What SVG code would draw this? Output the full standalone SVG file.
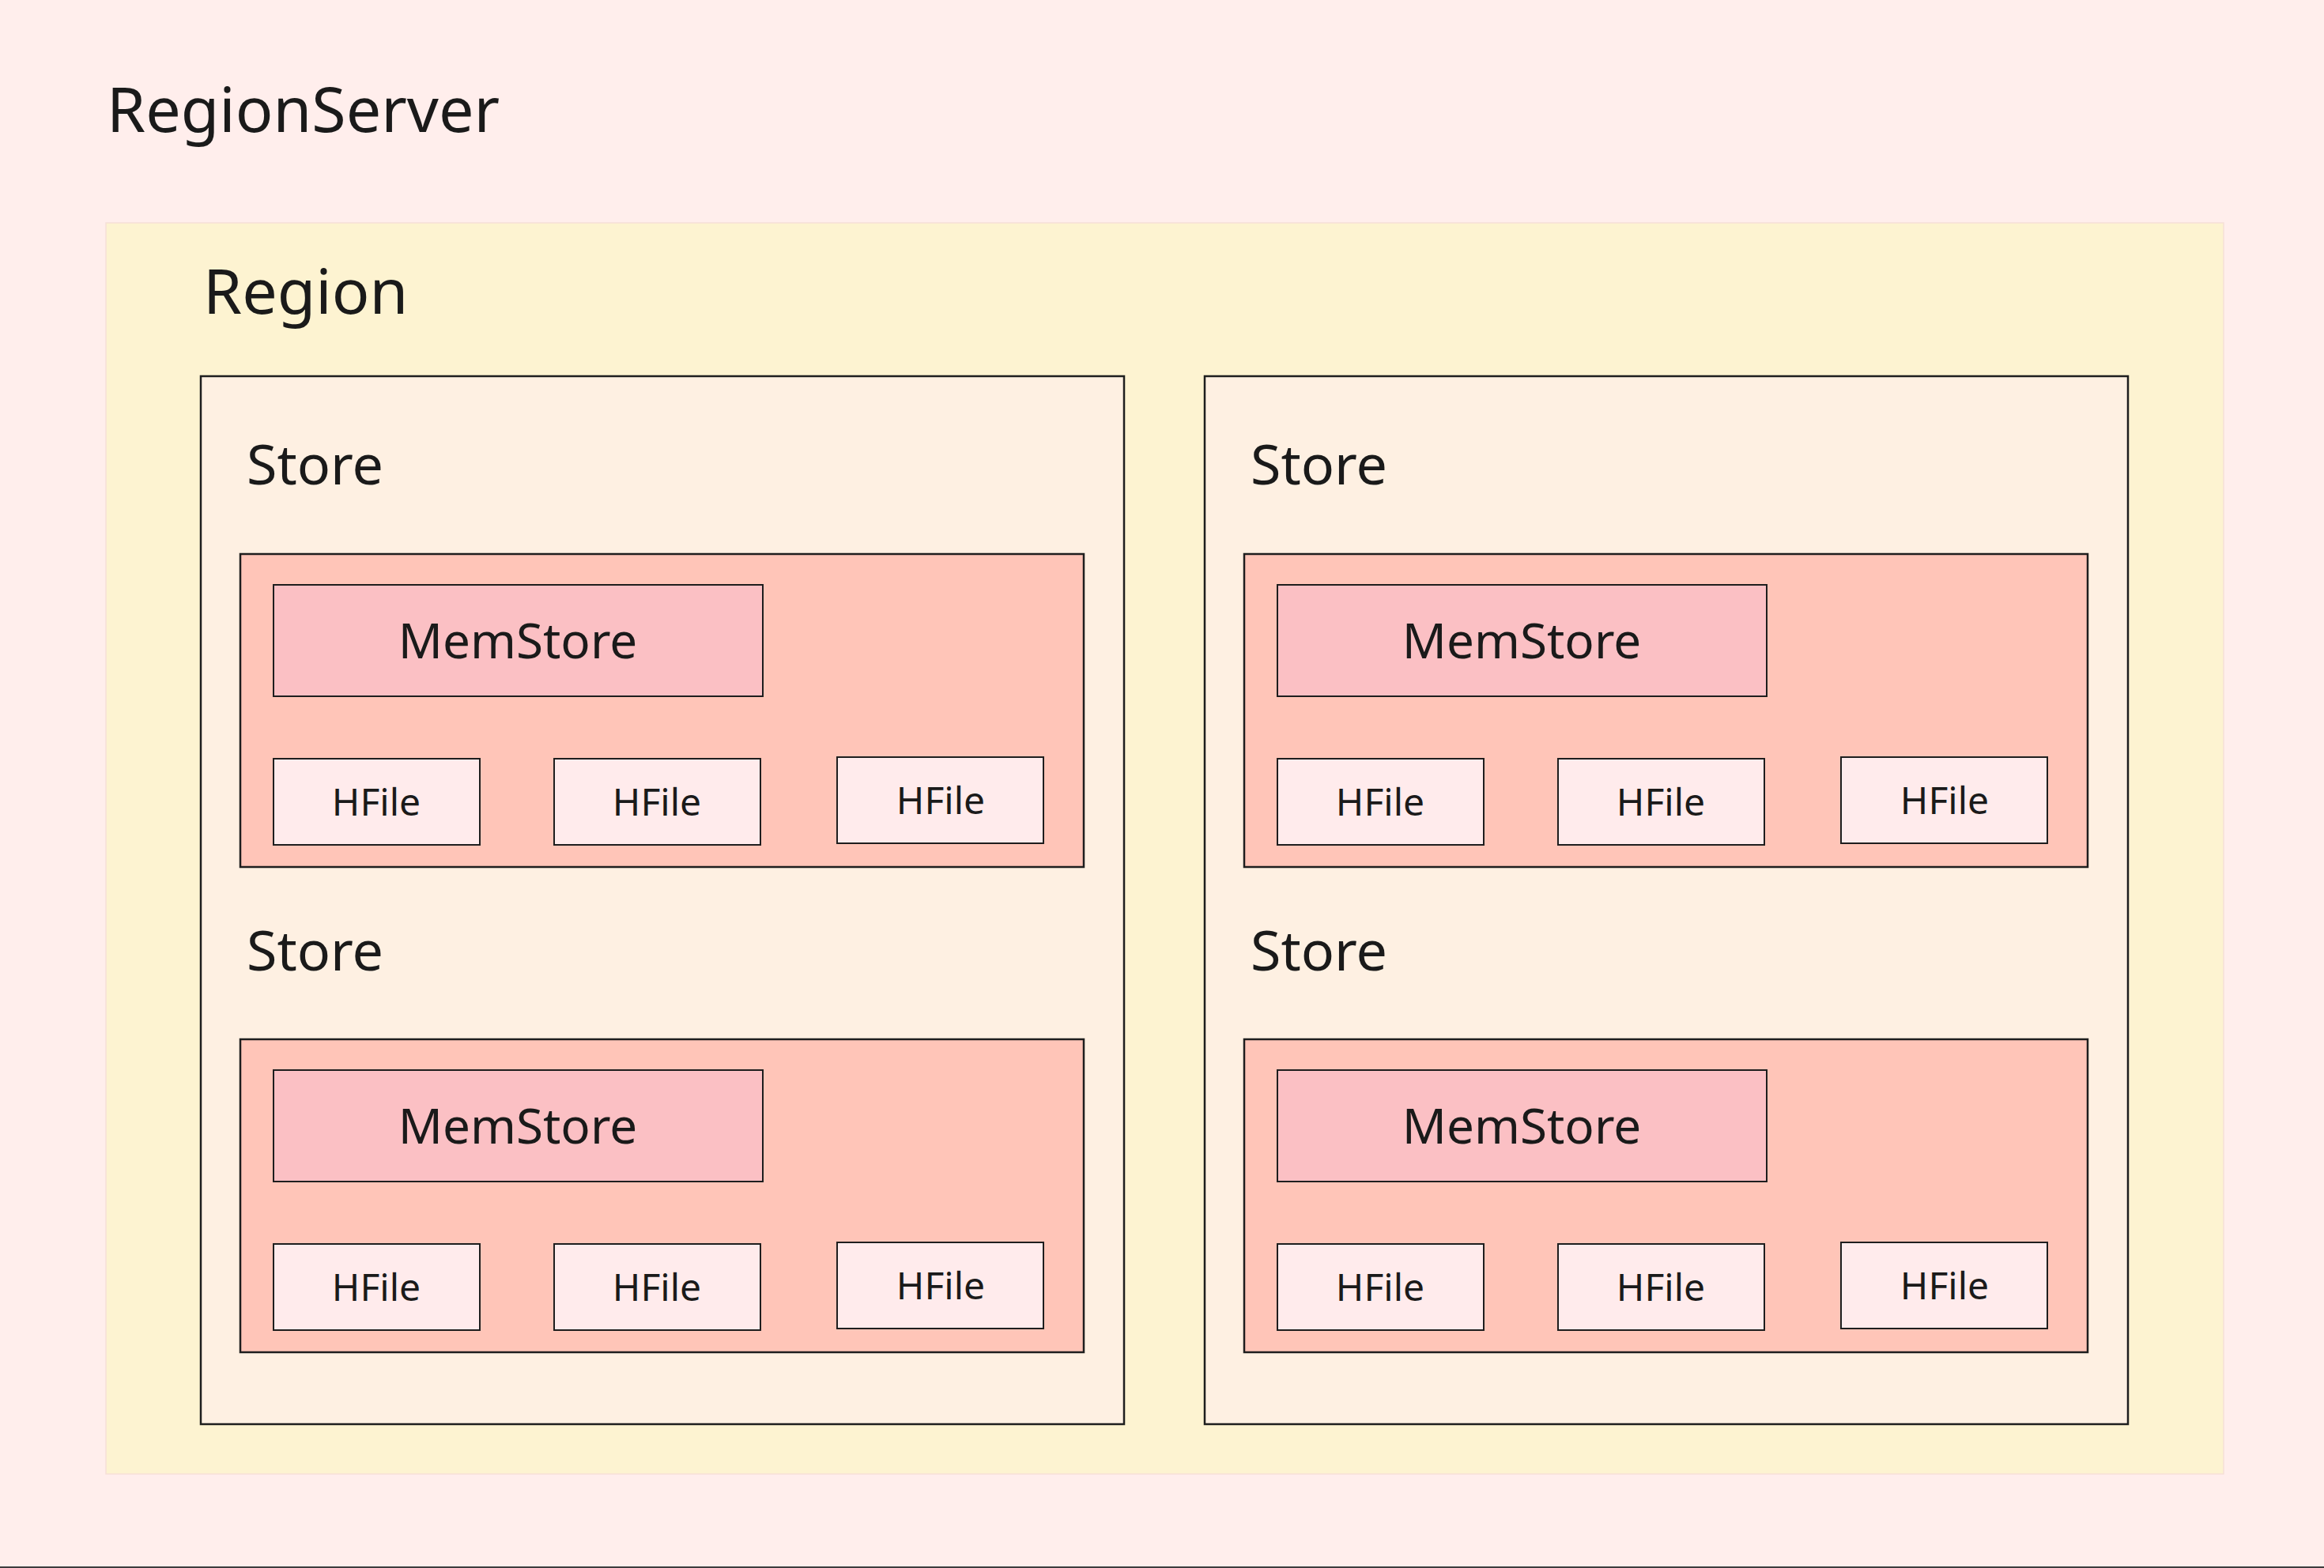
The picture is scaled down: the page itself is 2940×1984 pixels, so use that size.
<svg xmlns="http://www.w3.org/2000/svg" width="2940" height="1984" viewBox="0 0 2940 1984">
<style>
text{font-family:"Noto Sans","Liberation Sans",sans-serif;fill:#1a1a1a}
.t1{font-size:79px}
.t2{font-size:70px}
.t3{font-size:62px;text-anchor:middle}
.t4{font-size:48px;text-anchor:middle}
.region{fill:#FDF3D1;stroke:#F6E0D6;stroke-width:1.5}
.store{fill:#FEF0E2;stroke:#1e1e1e;stroke-width:2.5}
.cf{fill:#FFC5B8;stroke:#1e1e1e;stroke-width:2.5}
.mem{fill:#FBC0C4;stroke:#1e1e1e;stroke-width:2}
.hf{fill:#FFEBEC;stroke:#1e1e1e;stroke-width:2}
</style>
<defs>
<g id="cfam">
<rect class="cf" x="304" y="701" width="1067" height="396"/>
<rect class="mem" x="346" y="740" width="619" height="141"/>
<text class="t3" x="655" y="833">MemStore</text>
<rect class="hf" x="346" y="960" width="261" height="109"/>
<text class="t4" x="476" y="1032">HFile</text>
<rect class="hf" x="701" y="960" width="261" height="109"/>
<text class="t4" x="831" y="1032">HFile</text>
<rect class="hf" x="1059" y="958" width="261" height="109"/>
<text class="t4" x="1190" y="1030">HFile</text>
</g>
</defs>
<rect x="0" y="0" width="2940" height="1984" fill="#FFEEEC"/>
<rect x="0" y="1982" width="2940" height="2" fill="#3d3d3d"/>
<g id="regionserver">
<text class="t1" x="135" y="167">RegionServer</text>
</g>
<g id="region">
<rect class="region" x="134" y="282" width="2679" height="1583"/>
<text class="t1" x="257" y="397">Region</text>
</g>
<g id="store-left">
<rect class="store" x="254" y="476" width="1168" height="1326"/>
<g id="store-left-top">
<text class="t2" x="312" y="613">Store</text>
<use href="#cfam"/>
</g>
<g id="store-left-bottom">
<text class="t2" x="312" y="1228">Store</text>
<use href="#cfam" transform="translate(0,614)"/>
</g>
</g>
<g id="store-right">
<rect class="store" x="1524" y="476" width="1168" height="1326"/>
<g id="store-right-top">
<text class="t2" x="1582" y="613">Store</text>
<use href="#cfam" transform="translate(1270,0)"/>
</g>
<g id="store-right-bottom">
<text class="t2" x="1582" y="1228">Store</text>
<use href="#cfam" transform="translate(1270,614)"/>
</g>
</g>
<g id="connectors"></g>
</svg>
